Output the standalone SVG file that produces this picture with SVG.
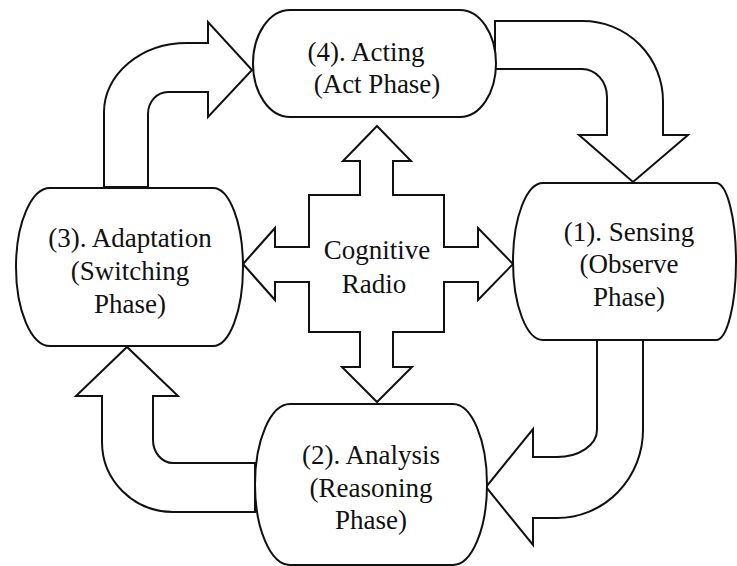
<svg xmlns="http://www.w3.org/2000/svg" width="737" height="566" viewBox="0 0 737 566">
  <style>
    .shape { fill: #ffffff; stroke: #111111; stroke-width: 2; stroke-linejoin: miter; }
    .label { font-family: "Liberation Serif", "Times New Roman", serif; font-size: 27px; fill: #111111; text-anchor: middle; }
  </style>
  <rect width="737" height="566" fill="#ffffff"/>

  <!-- Block arrows that carry the cycle from one phase to the next -->
  <g id="connectors">
    <!-- (3) Adaptation -> (4) Acting -->
    <path class="shape" d="M104,187 V112 A83,69 0 0 1 187,43 H208 V22 L252,70 L208,117 V92 H168 A20,22 0 0 0 148,114 V187 Z"/>
    <!-- (4) Acting -> (1) Sensing -->
    <path class="shape" d="M495,21 H583 A80,80 0 0 1 663,101 V135 H688 L633,182 L579,135 H607 V97 A25,28 0 0 0 582,69 H495 Z"/>
    <!-- (1) Sensing -> (2) Analysis -->
    <path class="shape" d="M597,340 V430 A40,27 0 0 1 557,457 H533 V429 L486,487 L533,545 V518 H557 A86,88 0 0 0 643,430 V340 Z"/>
    <!-- (2) Analysis -> (3) Adaptation -->
    <path class="shape" d="M255,463 H173 A20,23 0 0 1 153,440 V396 H178 L127,347 L76,396 H102 V442 A71,70 0 0 0 173,512 H255 Z"/>
  </g>

  <!-- Central hub with four-way arrow -->
  <g id="cognitive-radio">
    <path class="shape" d="M377,126 L411,161 H393 V195 H444 V247 H478 V228 L513,264 L478,300 V282 H444 V332 H393 V367 H412 L377,402 L342,367 H360 V332 H309 V282 H275 V300 L243,264 L275,228 V247 H309 V195 H360 V161 H343 Z"/>
    <text class="label" x="377" y="259">Cognitive</text>
    <text class="label" x="374" y="293">Radio</text>
  </g>

  <!-- Phase nodes -->
  <g id="acting">
    <path class="shape" d="M290,10 H460 A36,53.5 0 0 1 460,117 H290 A37,53.5 0 0 1 290,10 Z"/>
    <text class="label" x="366" y="61">(4). Acting</text>
    <text class="label" x="377" y="93">(Act Phase)</text>
  </g>

  <g id="sensing">
    <path class="shape" d="M543,183 H716 A20,78.5 0 0 1 716,340 H543 A30,78.5 0 0 1 543,183 Z"/>
    <text class="label" x="629" y="241">(1). Sensing</text>
    <text class="label" x="629" y="273">(Observe</text>
    <text class="label" x="629" y="306">Phase)</text>
  </g>

  <g id="analysis">
    <path class="shape" d="M290,404 H453 A34,80.5 0 0 1 453,565 H290 A35,80.5 0 0 1 290,404 Z"/>
    <text class="label" x="371" y="464">(2). Analysis</text>
    <text class="label" x="371" y="497">(Reasoning</text>
    <text class="label" x="371" y="529">Phase)</text>
  </g>

  <g id="adaptation">
    <path class="shape" d="M50,188 H213 A30,79 0 0 1 213,346 H50 A34,79 0 0 1 50,188 Z"/>
    <text class="label" x="130" y="247">(3). Adaptation</text>
    <text class="label" x="130" y="280">(Switching</text>
    <text class="label" x="130" y="313">Phase)</text>
  </g>
</svg>
